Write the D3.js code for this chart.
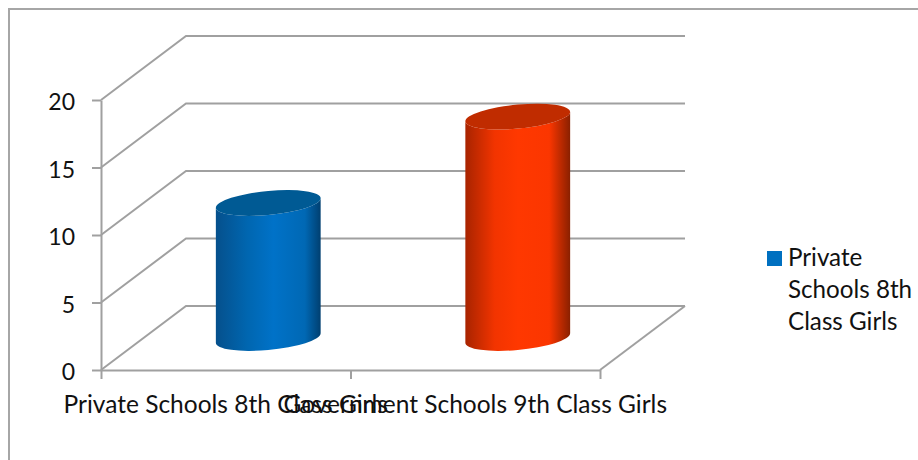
<!DOCTYPE html>
<html>
<head>
<meta charset="utf-8">
<script src="https://cdn.jsdelivr.net/npm/d3@7/dist/d3.min.js"></script>
<style>html,body{margin:0;padding:0;background:#fff}svg{display:block}text{font-family:Lato,"Open Sans",sans-serif;fill:#111}</style>
</head>
<body>
<svg id="chart" width="918" height="460"></svg>
<script>
const categories = ["Private Schools 8th Class Girls", "Government Schools 9th Class Girls"];
const values = [10, 16.4];
const yTicks = [0, 5, 10, 15, 20];
const legendLines = ["Private", "Schools 8th", "Class Girls"];
const legendColor = "#0070c0";
const barPalettes = [
  {id:"blue", top:"#005a94", stops:[["0%","#05508c"],["30%","#0066b0"],["55%","#0072c8"],["85%","#0068b4"],["100%","#003f70"]]},
  {id:"red",  top:"#c02c00", stops:[["0%","#a82400"],["28%","#f23400"],["50%","#ff3800"],["80%","#fb3600"],["100%","#8a2000"]]}
];
const gridColor = "#a0a0a0";

const svg = d3.select("#chart");
const depth = {x:85, y:-64};
const x = d3.scaleBand().domain(categories).range([101,600]);
const y = d3.scaleLinear().domain([0,20]).range([370,100]);

// outer frame
svg.append("path").attr("d","M9,460V9H918").attr("fill","none").attr("stroke","#a6a6a6").attr("stroke-width",2);

const defs = svg.append("defs");
barPalettes.forEach(p=>{
  const g = defs.append("linearGradient").attr("id",p.id).attr("x1",0).attr("x2",1).attr("y1",0).attr("y2",0);
  p.stops.forEach(s=>g.append("stop").attr("offset",s[0]).attr("stop-color",s[1]));
});

// 3D gridlines: side wall + back wall
const grid = svg.append("g").attr("fill","none").attr("stroke",gridColor).attr("stroke-width",2);
grid.selectAll("path.g").data(yTicks).join("path").attr("class","g")
  .attr("d",v=>`M${x.range()[0]},${y(v)}L${x.range()[0]+depth.x},${y(v)+depth.y}H${x.range()[1]+depth.x}`);
// floor right edge
grid.append("path").attr("d",`M${x.range()[1]},${y(0)}L${x.range()[1]+depth.x},${y(0)+depth.y}`);

// axes
const yAxis = svg.append("g").attr("transform",`translate(${x.range()[0]},0)`)
  .call(d3.axisLeft(y).tickValues(yTicks).tickSize(9).tickSizeOuter(0).tickPadding(17));
const xEdges = [...categories.map(c=>x(c)), x.range()[1]];
const xAxis = svg.append("g").attr("transform",`translate(0,${y(0)})`)
  .call(d3.axisBottom(d3.scaleLinear().domain(x.range()).range(x.range())).tickValues(xEdges).tickSize(9).tickSizeOuter(0).tickFormat(""));
svg.selectAll(".domain,.tick line").attr("stroke",gridColor).attr("stroke-width",2);
yAxis.selectAll("text").attr("font-size",23).style("font-family","Lato,sans-serif").attr("fill","#111").attr("dy","0.43em");

// category labels (overlap as in the source)
svg.selectAll("text.cat").data(categories).join("text").attr("class","cat")
  .attr("x",c=>x(c)+x.bandwidth()/2).attr("y",413).attr("text-anchor","middle").attr("font-size",24.5).text(c=>c);

// cylinders
const barW = x.bandwidth()*0.42, a = barW/2, b = 12, skew = -0.09;
const bars = svg.selectAll("g.bar").data(categories).join("g").attr("class","bar")
  .attr("transform",c=>`matrix(1,${skew},0,1,${x(c)+x.bandwidth()/2+depth.x/2},${depth.y/2})`);
bars.append("path")
  .attr("fill",(c,i)=>`url(#${barPalettes[i].id})`)
  .attr("d",(c,i)=>{const t=y(values[i]),f=y(0);return `M${-a},${t}L${-a},${f}A${a},${b} 0 0 0 ${a},${f}L${a},${t}A${a},${b} 0 0 1 ${-a},${t}Z`;});
bars.append("ellipse")
  .attr("cx",0).attr("cy",(c,i)=>y(values[i])).attr("rx",a).attr("ry",b)
  .attr("fill",(c,i)=>barPalettes[i].top);

// legend
svg.append("rect").attr("x",767).attr("y",251).attr("width",15).attr("height",15).attr("fill",legendColor);
svg.selectAll("text.leg").data(legendLines).join("text").attr("class","leg")
  .attr("x",788).attr("y",(d,i)=>266+i*32).attr("font-size",24.2).text(d=>d);
</script>
</body>
</html>
